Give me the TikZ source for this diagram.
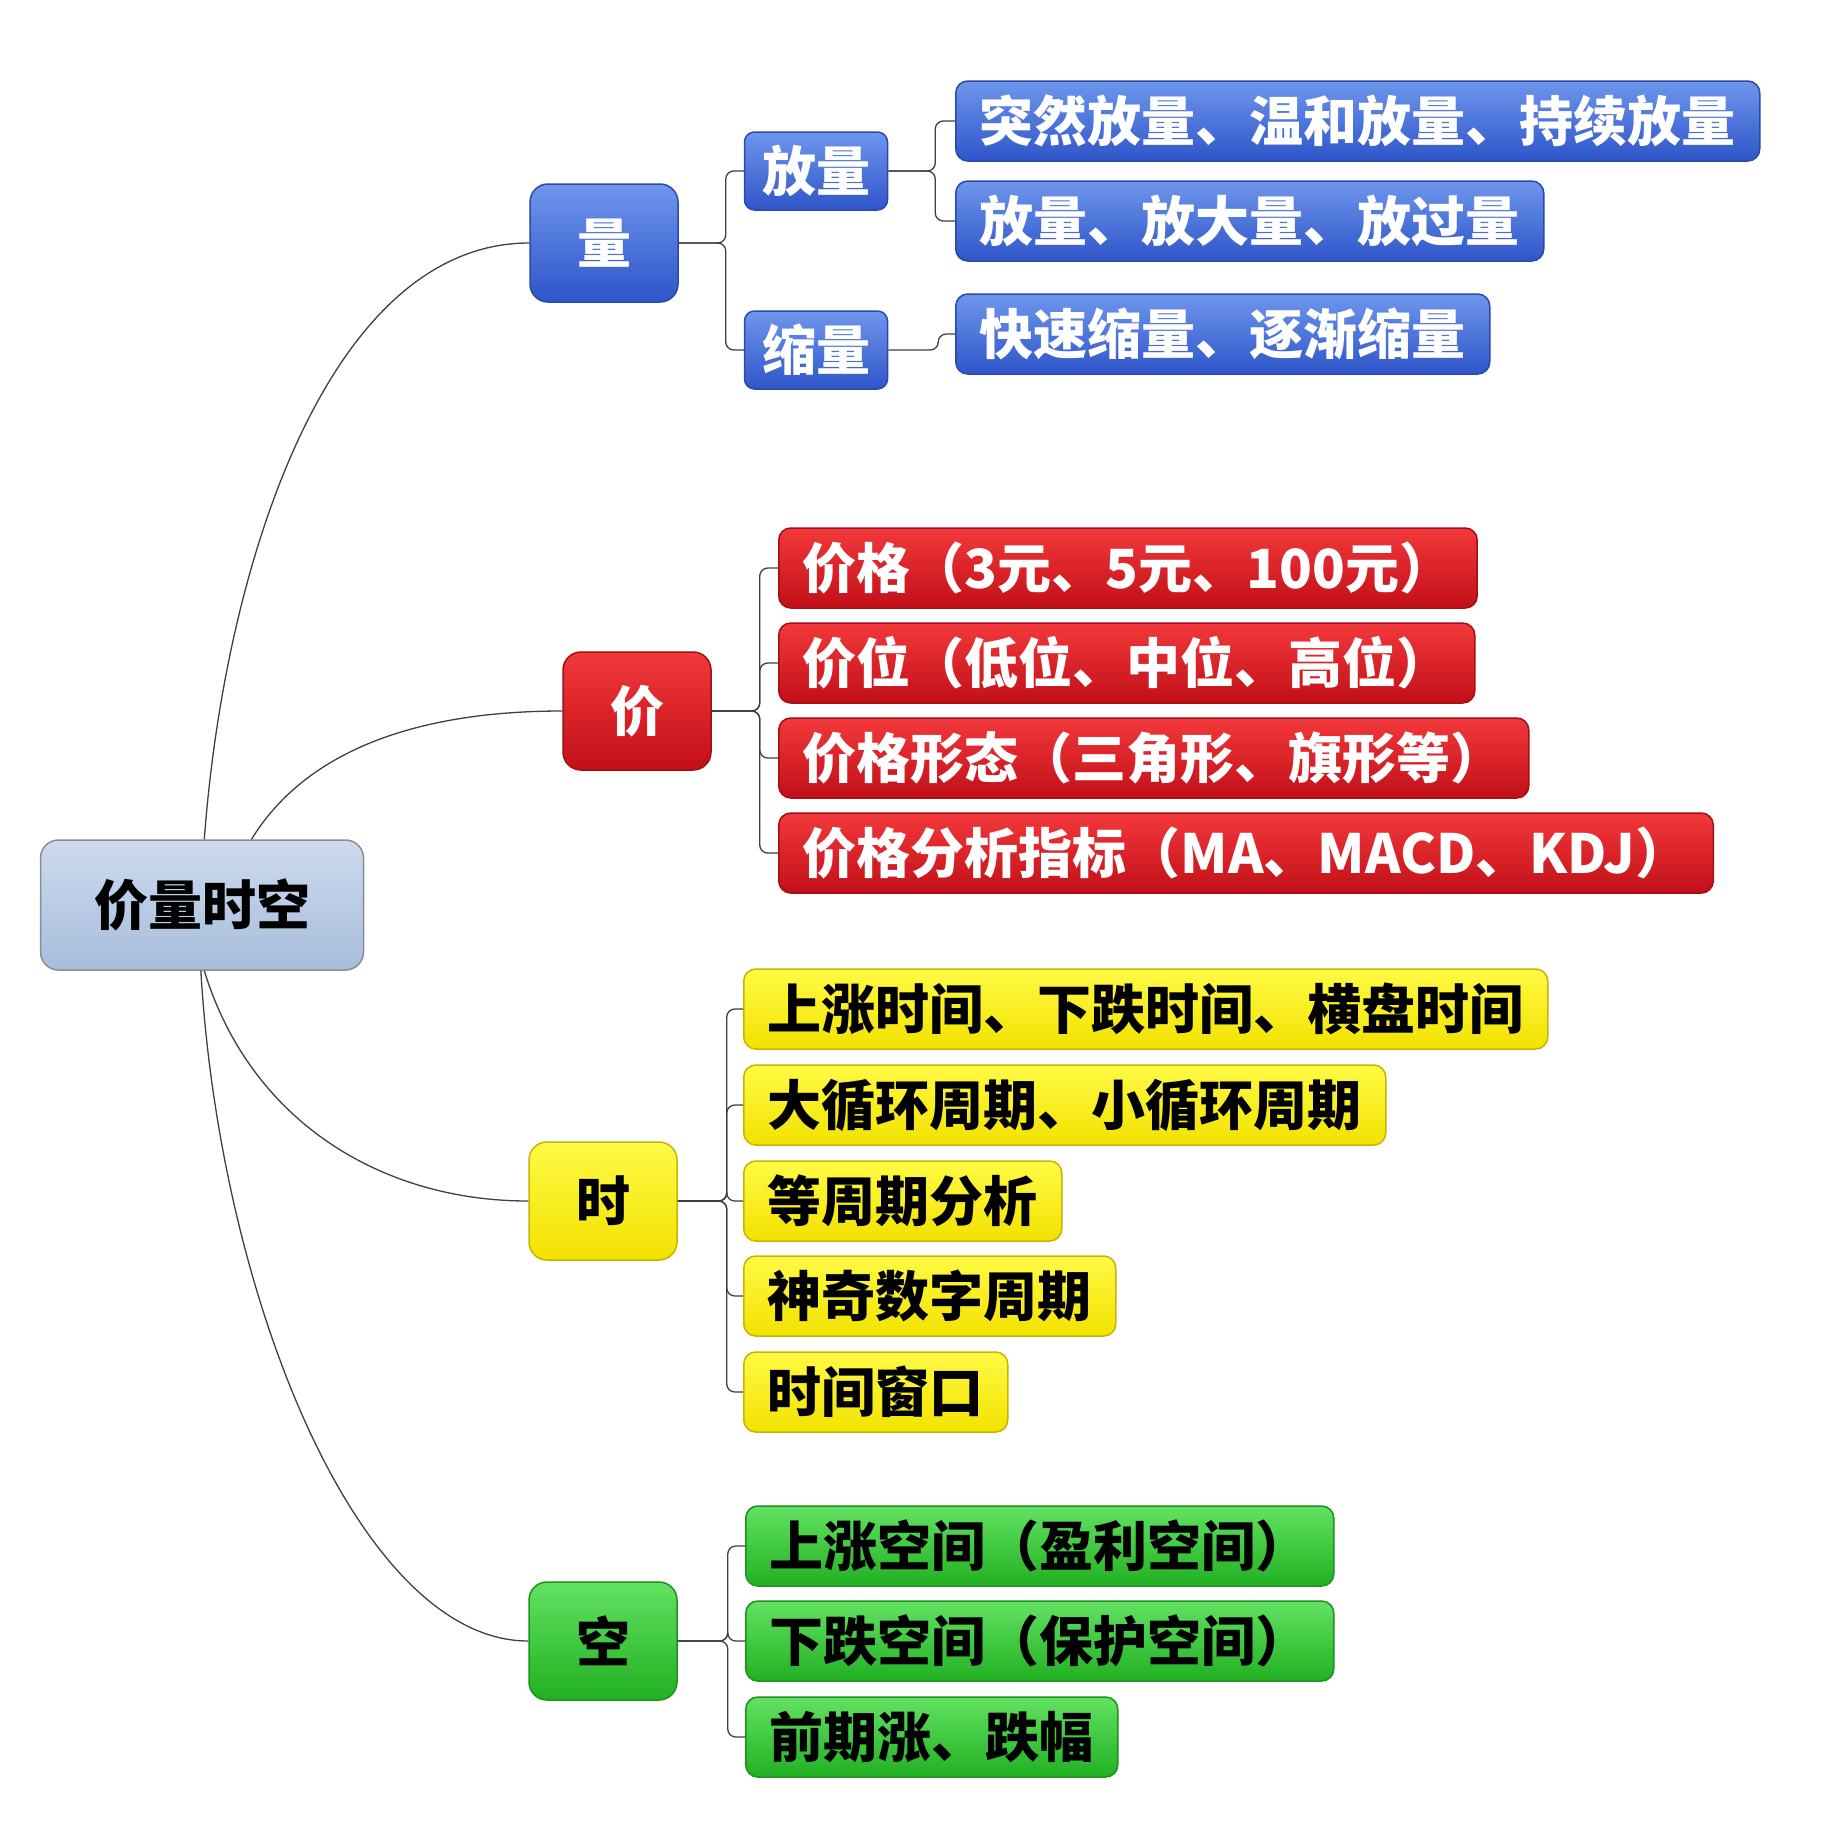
\documentclass[tikz,border=0pt]{standalone}
\usepackage{fontspec}
\newfontfamily\cjk{Noto Sans CJK SC}
\usetikzlibrary{positioning}

\begin{document}
\begin{tikzpicture}[x=1pt,y=-1pt,
  box/.style={draw, line width=1.5pt, inner xsep=24pt, inner ysep=0pt,
    font=\cjk\bfseries\fontsize{54}{62}\selectfont},
  leaf/.style={box, anchor=west, minimum height=80pt, rounded corners=12pt},
  hub/.style={box, minimum width=148pt, minimum height=118pt, rounded corners=18pt},
  bluebox/.style={top color=blue1, bottom color=blue2, draw=blue3, text=white},
  redbox/.style={top color=red1, bottom color=red2, draw=red3, text=white},
  yellowbox/.style={top color=yellow1, bottom color=yellow2, draw=yellow3, text=black},
  greenbox/.style={top color=green1, bottom color=green2, draw=green3, text=black},
  link/.style={draw=black!75, line width=1.3pt, rounded corners=8pt}]
\definecolor{blue1}{HTML}{6E96EC}\definecolor{blue2}{HTML}{2F55C9}\definecolor{blue3}{HTML}{2A4AA8}
\definecolor{red1}{HTML}{F2393B}\definecolor{red2}{HTML}{C20F18}\definecolor{red3}{HTML}{A50E14}
\definecolor{yellow1}{HTML}{FFFA45}\definecolor{yellow2}{HTML}{F2E200}\definecolor{yellow3}{HTML}{C8B400}
\definecolor{green1}{HTML}{62E262}\definecolor{green2}{HTML}{22B022}\definecolor{green3}{HTML}{1C931C}
\definecolor{rootfill1}{HTML}{CCDAEE}\definecolor{rootfill2}{HTML}{A8BDDC}

\useasboundingbox[fill=white] (0,0) rectangle (1825,1826);

% root
\node[box, minimum width=323pt, minimum height=130pt, rounded corners=18pt,
  top color=rootfill1, bottom color=rootfill2, draw=black!45, text=black] (root) at (202,905) {价量时空};

% 量
\node[hub, bluebox] (liang) at (604,243) {量};
\node[box, bluebox, minimum width=143pt, minimum height=78pt, inner xsep=0pt, rounded corners=10pt] (fangliang) at (816,171) {放量};
\node[box, bluebox, minimum width=143pt, minimum height=78pt, inner xsep=0pt, rounded corners=10pt] (suoliang) at (816,350) {缩量};
\node[leaf, bluebox] (fl1) at (955,121) {突然放量、温和放量、持续放量};
\node[leaf, bluebox] (fl2) at (955,221) {放量、放大量、放过量};
\node[leaf, bluebox] (sl1) at (955,334) {快速缩量、逐渐缩量};

% 价
\node[hub, redbox] (jia) at (637,711) {价};
\node[leaf, redbox] (j1) at (778,568) {价格（3元、5元、100元）};
\node[leaf, redbox] (j2) at (778,663) {价位（低位、中位、高位）};
\node[leaf, redbox] (j3) at (778,758) {价格形态（三角形、旗形等）};
\node[leaf, redbox] (j4) at (778,853) {价格分析指标（MA、MACD、KDJ）};

% 时
\node[hub, yellowbox] (shi) at (603,1201) {时};
\node[leaf, yellowbox] (s1) at (743,1009) {上涨时间、下跌时间、横盘时间};
\node[leaf, yellowbox] (s2) at (743,1105) {大循环周期、小循环周期};
\node[leaf, yellowbox] (s3) at (743,1201) {等周期分析};
\node[leaf, yellowbox] (s4) at (743,1296) {神奇数字周期};
\node[leaf, yellowbox] (s5) at (743,1392) {时间窗口};

% 空
\node[hub, greenbox] (kong) at (603,1641) {空};
\node[leaf, greenbox] (k1) at (745,1546) {上涨空间（盈利空间）};
\node[leaf, greenbox] (k2) at (745,1641) {下跌空间（保护空间）};
\node[leaf, greenbox] (k3) at (745,1737) {前期涨、跌幅};

% curves from the root
\draw[link] (root.88) .. controls (225,560) and (330,243) .. (liang.west);
\draw[link] (root.53) .. controls (300,760) and (400,711) .. (jia.west);
\draw[link] (root.272) .. controls (250,1120) and (380,1201) .. (shi.west);
\draw[link] (root.269) .. controls (220,1300) and (360,1641) .. (kong.west);

% brackets
\draw[link] (liang.east) -- ++(47,0) |- (fangliang.west);
\draw[link] (liang.east) -- ++(47,0) |- (suoliang.west);
\draw[link] (fangliang.east) -- ++(47,0) |- (fl1.west);
\draw[link] (fangliang.east) -- ++(47,0) |- (fl2.west);
\draw[link] (suoliang.east) -- ++(50,0) |- (sl1.west);
\draw[link] (jia.east) -- ++(48,0) |- (j1.west);
\draw[link] (jia.east) -- ++(48,0) |- (j2.west);
\draw[link] (jia.east) -- ++(48,0) |- (j3.west);
\draw[link] (jia.east) -- ++(48,0) |- (j4.west);
\draw[link] (shi.east) -- ++(49,0) |- (s1.west);
\draw[link] (shi.east) -- ++(49,0) |- (s2.west);
\draw[link] (shi.east) -- ++(49,0) |- (s3.west);
\draw[link] (shi.east) -- ++(49,0) |- (s4.west);
\draw[link] (shi.east) -- ++(49,0) |- (s5.west);
\draw[link] (kong.east) -- ++(50,0) |- (k1.west);
\draw[link] (kong.east) -- ++(50,0) |- (k2.west);
\draw[link] (kong.east) -- ++(50,0) |- (k3.west);
\end{tikzpicture}
\end{document}
